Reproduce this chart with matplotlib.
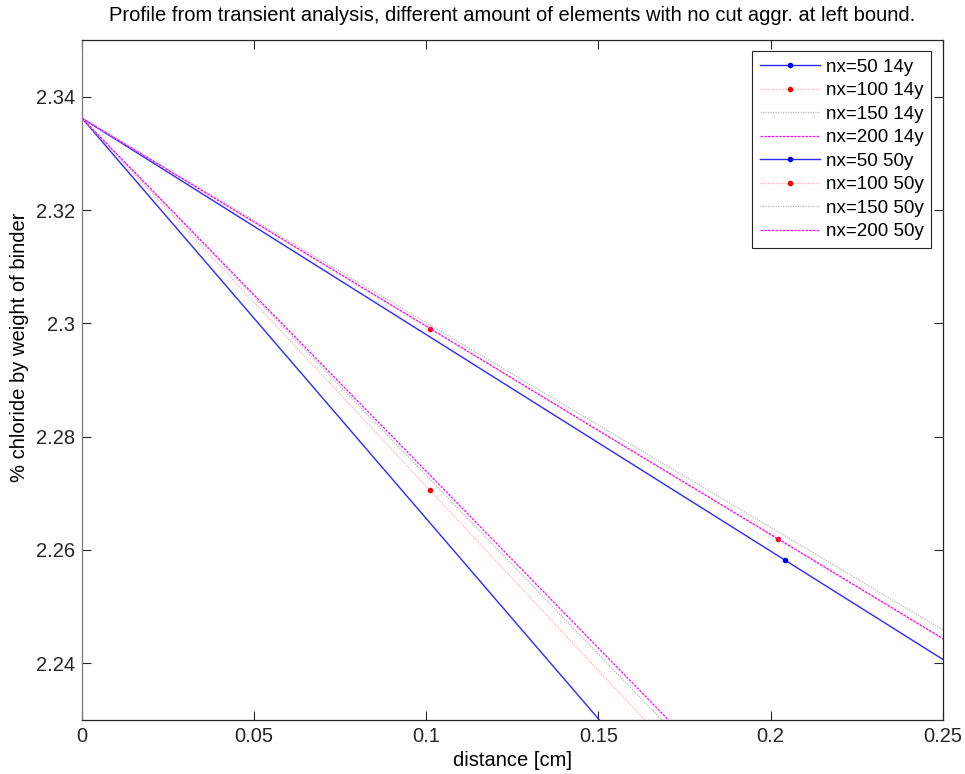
import matplotlib
matplotlib.use("Agg")
import matplotlib.pyplot as plt

plt.rcParams['font.family'] = ['Liberation Sans', 'DejaVu Sans']

# node coordinates [cm] for each mesh size
x50 = [0.0, 0.2042, 0.4084]
x100 = [0.0, 0.1011, 0.2021, 0.3032]
x150 = [0.0, 0.0674, 0.1348, 0.2022, 0.2696]
x200 = [0.0, 0.0505, 0.1011, 0.1516, 0.2021, 0.2527, 0.3032]

# chloride content [% by weight of binder] after 14 years
c50_14 = [2.3362, 2.2582, 2.1802]
c100_14 = [2.3362, 2.2990, 2.2619, 2.2246]
c150_14 = [2.3362, 2.3119, 2.2875, 2.2632, 2.2388]
c200_14 = [2.3362, 2.3177, 2.2991, 2.2805, 2.2620, 2.2434, 2.2249]

# chloride content after 50 years
c50_50 = [2.3362, 2.1919, 2.0476]
c100_50 = [2.3362, 2.2705, 2.2049, 2.1391]
c150_50 = [2.3362, 2.2937, 2.2512, 2.2087, 2.1662]
c200_50 = [2.3362, 2.3047, 2.2732, 2.2417, 2.2102, 2.1786, 2.1471]

labels = ["nx=50 14y", "nx=100 14y", "nx=150 14y", "nx=200 14y",
          "nx=50 50y", "nx=100 50y", "nx=150 50y", "nx=200 50y"]

xticks = [0, 0.05, 0.1, 0.15, 0.2, 0.25]
xticklabels = ["0", "0.05", "0.1", "0.15", "0.2", "0.25"]
yticks = [2.24, 2.26, 2.28, 2.30, 2.32, 2.34]
yticklabels = ["2.24", "2.26", "2.28", "2.3", "2.32", "2.34"]

styles = [
    dict(color="#2a2aff", linestyle="-", linewidth=1.0, marker=".", markersize=6,
         markerfacecolor="blue", markeredgecolor="blue", markevery=slice(1, None)),
    dict(color="#ffb0b0", linestyle=(0, (1, 1)), linewidth=0.9, marker=".", markersize=6,
         markerfacecolor="red", markeredgecolor="red", markevery=slice(1, None)),
    dict(color="#b8b8b8", linestyle=(0, (1, 1)), linewidth=0.9),
    dict(color="#ff00ff", linestyle=(0, (2, 1)), linewidth=0.9),
]

fig = plt.figure(figsize=(9.65, 7.74), dpi=100)
ax = fig.add_axes([0.085, 0.0698, 0.8919, 0.8785])

xs = [x50, x100, x150, x200]
series14 = [c50_14, c100_14, c150_14, c200_14]
series50 = [c50_50, c100_50, c150_50, c200_50]

for i, (x, y) in enumerate(zip(xs, series14)):
    ax.plot(x, y, label=labels[i], **styles[i])
for i, (x, y) in enumerate(zip(xs, series50)):
    ax.plot(x, y, label=labels[i + 4], **styles[i])

ax.set_xlim(0, 0.25)
ax.set_ylim(2.23, 2.35)
ax.set_xticks(xticks)
ax.set_xticklabels(xticklabels)
ax.set_yticks(yticks)
ax.set_yticklabels(yticklabels)
ax.tick_params(direction="in", length=6.5, top=True, right=True, labelsize=14.5,
               width=0.8, colors="#262626", pad=5)
for side in ["top", "right", "bottom"]:
    ax.spines[side].set_color("#262626")
    ax.spines[side].set_linewidth(0.9)
ax.spines["left"].set_color("#7a7a7a")
ax.spines["left"].set_linewidth(0.9)

ax.set_xlabel("distance [cm]", fontsize=14.5, labelpad=4)
ax.set_ylabel("% chloride by weight of binder", fontsize=14.5)
ax.yaxis.set_label_coords(-0.062, 0.5485)
ax.set_title("Profile from transient analysis, different amount of elements with no cut aggr. at left bound.",
             fontsize=14.5, pad=14)

leg = ax.legend(loc="upper right", fontsize=13.5, frameon=True, fancybox=False,
                edgecolor="#262626", framealpha=1, handlelength=3.2,
                borderaxespad=0.6, labelspacing=0.34, handletextpad=0.35,
                borderpad=0.4)
leg.get_frame().set_linewidth(0.8)

fig.savefig("out.png", dpi=100)
